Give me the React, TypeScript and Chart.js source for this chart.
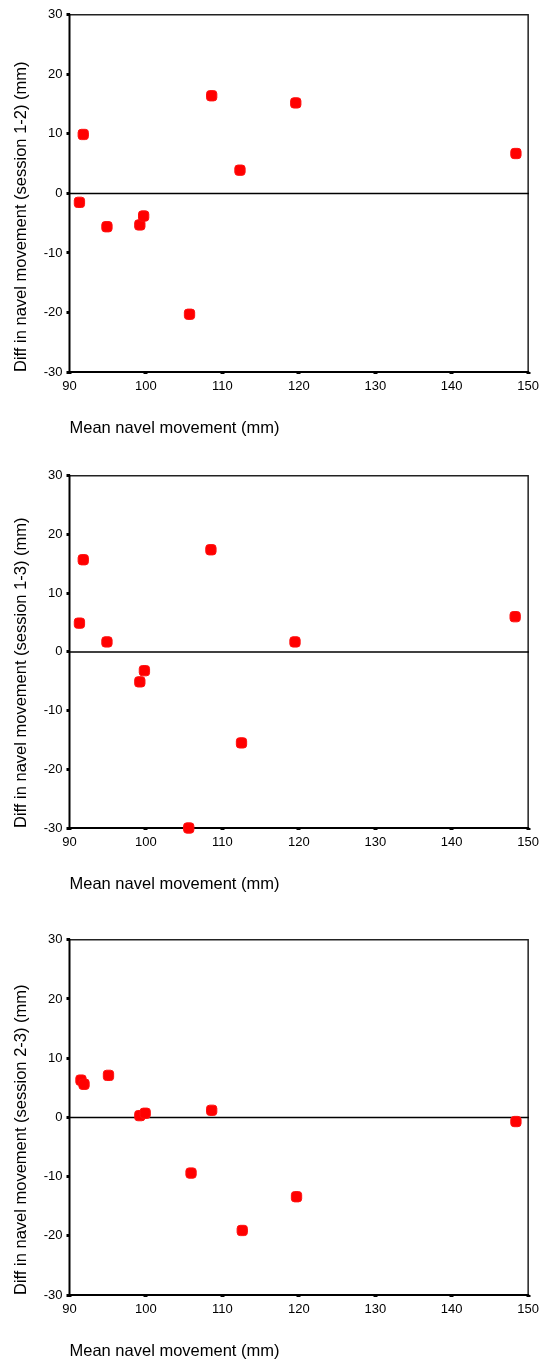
import React, { useEffect, useRef } from "react";
import { Chart, registerables } from "chart.js";

Chart.register(...registerables);

// ---- data ----
const xTicks = [90, 100, 110, 120, 130, 140, 150];
const yTicks = [-30, -20, -10, 0, 10, 20, 30];
const xTitle = "Mean navel movement (mm)";

const yTitle12 = "Diff in navel movement (session 1-2) (mm)";
const mean12 = [91.3, 91.8, 94.9, 99.2, 99.7, 105.7, 108.6, 112.3, 119.6, 148.4];
const diff12 = [-1.5, 9.9, -5.6, -5.3, -3.8, -20.3, 16.4, 3.9, 15.2, 6.7];

const yTitle13 = "Diff in navel movement (session 1-3) (mm)";
const mean13 = [91.3, 91.8, 94.9, 99.2, 99.8, 105.6, 108.5, 112.5, 119.5, 148.3];
const diff13 = [4.9, 15.7, 1.7, -5.1, -3.2, -30.0, 17.4, -15.5, 1.7, 6.0];

const yTitle23 = "Diff in navel movement (session 2-3) (mm)";
const mean23 = [91.5, 91.9, 95.1, 99.2, 99.9, 105.9, 108.6, 112.6, 119.7, 148.4];
const diff23 = [6.3, 5.6, 7.1, 0.3, 0.7, -9.4, 1.2, -19.1, -13.4, -0.7];

const FONT = '"Liberation Sans", Arial, Helvetica, sans-serif';

const framePlugin = {
  id: "frameAndZero",
  beforeDatasetsDraw(chart: any) {
    const { ctx, chartArea: a, scales } = chart;
    const y0 = scales.y.getPixelForValue(0);
    ctx.save();
    ctx.lineCap = "square";
    ctx.strokeStyle = "#222";
    ctx.lineWidth = 1.5;
    ctx.beginPath();
    ctx.moveTo(a.left, a.top);
    ctx.lineTo(a.right, a.top);
    ctx.lineTo(a.right, a.bottom);
    ctx.stroke();
    ctx.strokeStyle = "#000";
    ctx.lineWidth = 1.5;
    ctx.beginPath();
    ctx.moveTo(a.left, y0);
    ctx.lineTo(a.right, y0);
    ctx.stroke();
    ctx.lineWidth = 2;
    ctx.beginPath();
    ctx.moveTo(a.left, a.top);
    ctx.lineTo(a.left, a.bottom);
    ctx.lineTo(a.right, a.bottom);
    ctx.stroke();
    ctx.restore();
  },
};

function Panel(props: { top: number; height: number; xs: number[]; ys: number[]; yTitle: string }) {
  const ref = useRef<HTMLCanvasElement | null>(null);
  useEffect(() => {
    if (!ref.current) return;
    const chart = new Chart(ref.current, {
      type: "scatter",
      data: {
        datasets: [
          {
            data: props.xs.map((x, i) => ({ x, y: props.ys[i] })),
            pointStyle: "rectRounded",
            pointRadius: 6,
            pointHoverRadius: 6,
            backgroundColor: "#ff0000",
            borderColor: "#ff1010",
            borderWidth: 1,
            clip: false as any,
            showLine: false,
          },
        ],
      },
      options: {
        responsive: true,
        maintainAspectRatio: false,
        animation: false,
        events: [],
        layout: { padding: { top: 10, right: 14, bottom: 0, left: 0 } },
        plugins: { legend: { display: false }, tooltip: { enabled: false } },
        scales: {
          x: {
            type: "linear",
            min: 90,
            max: 150,
            afterBuildTicks: (s: any) => {
              s.ticks = xTicks.map((v) => ({ value: v }));
            },
            afterFit: (s: any) => {
              s.height = 70;
            },
            border: { display: false },
            grid: { drawOnChartArea: false, drawTicks: true, tickLength: 2, tickWidth: 4, tickColor: "#000" },
            ticks: { padding: 5, color: "#000", font: { family: FONT, size: 13 } },
            title: {
              display: true,
              text: xTitle,
              align: "start",
              color: "#000",
              font: { family: FONT, size: 16.5 },
              padding: { top: 0, bottom: 3.4 },
            },
          },
          y: {
            type: "linear",
            min: -30,
            max: 30,
            afterBuildTicks: (s: any) => {
              s.ticks = yTicks.map((v) => ({ value: v }));
            },
            afterFit: (s: any) => {
              s.width = 69.5;
            },
            border: { display: false },
            grid: { drawOnChartArea: false, drawTicks: true, tickLength: 3, tickWidth: 3, tickColor: "#000" },
            ticks: { padding: 4, color: "#000", font: { family: FONT, size: 13 } },
            title: {
              display: true,
              text: props.yTitle,
              align: "start",
              color: "#000",
              font: { family: FONT, size: 16.5 },
              padding: { top: 11.6, bottom: 0 },
            },
          },
        },
      },
      plugins: [framePlugin],
    } as any);
    return () => chart.destroy();
  }, []);
  return (
    <div style={{ position: "absolute", left: 0, top: props.top, width: 544, height: props.height }}>
      <canvas ref={ref} />
    </div>
  );
}

export default function App() {
  return (
    <div style={{ position: "absolute", left: 0, top: 0, width: 544, height: 1363, background: "#fff", overflow: "hidden" }}>
      <Panel top={3} height={439} xs={mean12} ys={diff12} yTitle={yTitle12} />
      <Panel top={464} height={434} xs={mean13} ys={diff13} yTitle={yTitle13} />
      <Panel top={928} height={437} xs={mean23} ys={diff23} yTitle={yTitle23} />
    </div>
  );
}
